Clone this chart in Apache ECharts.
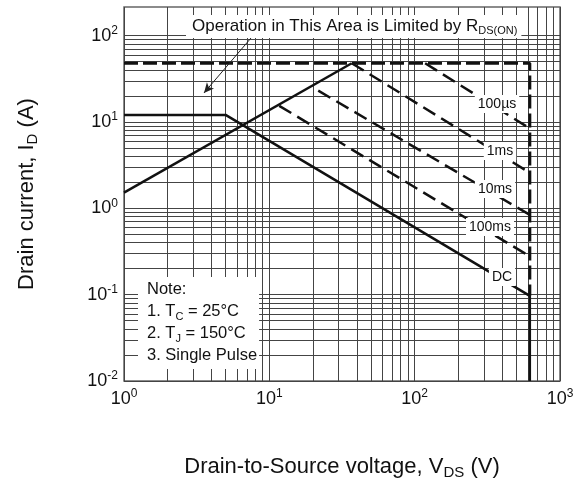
<!DOCTYPE html>
<html><head><meta charset="utf-8">
<script src="https://cdn.jsdelivr.net/npm/echarts@6/dist/echarts.min.js"></script>
<style>html,body{margin:0;padding:0;background:#fff}#c{width:584px;height:485px}</style>
</head><body><div id="c"></div>
<script>
// ---- data ----
const xGridLines = [1,2,3,4,5,6,7,8,9,10,20,30,40,50,60,70,80,90,100,200,300,400,500,600,700,800,900,1000];
const yGridLines = [0.01,0.02,0.03,0.04,0.05,0.06,0.07,0.08,0.09,0.1,0.2,0.3,0.4,0.5,0.6,0.7,0.8,0.9,1,2,3,4,5,6,7,8,9,10,20,30,40,50,60,70,80,90,100];
const limitLine = [[1,48],[620,48],[620,0.097]];       // package / BVdss limit (dashed)
const rdsOnLine = [[1,1.52],[36.9,48]];                // RDS(on) limit
const dcLine    = [[1,12.1],[5,12.1],[620,0.097],[620,0.01]];
const p100us    = [[118,48],[594,8.8]];
const p1ms      = [[36.9,48],[594,2.7]];
const p10ms     = [[21.7,23.1],[620,0.84]];
const p100ms    = [[11.7,15.4],[594,0.29]];
const arrowLine = [[7.6,97],[3.55,21.7]];
const xTitle = 'Drain-to-Source voltage, V';
const yTitle = 'Drain current, I';

const FONT = '"Liberation Sans", Arial, Helvetica, sans-serif';
const chart = echarts.init(document.getElementById('c'), null, {renderer:'canvas'});

function powLabel(v){
  const e = Math.log10(v);
  const r = Math.round(e);
  if (Math.abs(e - r) > 1e-6) return '';
  return '{b|10}{sup|' + (r < 0 ? '-' + (-r) : r) + '}';
}
const tickRich = {
  b:{fontSize:18, lineHeight:22, fontFamily:FONT, color:'#111'},
  sup:{fontSize:12, lineHeight:10, verticalAlign:'top', fontFamily:FONT, color:'#111'}
};
const nameRich = {
  n:{fontSize:22, lineHeight:26, fontFamily:FONT, color:'#111'},
  sub:{fontSize:15, lineHeight:16, verticalAlign:'bottom', fontFamily:FONT, color:'#111'}
};

function lineSeries(name, data, type, width, dash){
  return {name, type:'line', data, symbol:'none', silent:true, animation:false, z:3,
    lineStyle:{color:'#111', width, type: type==='dashed' ? dash : 'solid'}};
}
const labelStyle = (t, x, y) => ({type:'text', z:100, x, y, style:{text:t, font:'14px '+FONT, fill:'#111',
  align:'center', verticalAlign:'middle', backgroundColor:'#fff', padding:[2,3]}});

chart.setOption({
  animation:false,
  grid:{left:124, right:24, top:7, bottom:104, show:true, borderColor:'#666', borderWidth:1.5, backgroundColor:'transparent'},
  xAxis:{type:'log', min:1, max:1000, logBase:10,
    name:'{n|' + xTitle + '}{sub|DS}{n| (V)}', nameLocation:'middle', nameGap:73,
    nameTextStyle:{rich:nameRich},
    axisLine:{show:false}, axisTick:{show:false}, splitLine:{show:false},
    axisLabel:{formatter:powLabel, margin:7, rich:tickRich}},
  yAxis:{type:'log', min:0.01, max:215, logBase:10,
    name:'{n|' + yTitle + '}{sub|D}{n| (A)}', nameLocation:'middle', nameGap:84,
    nameTextStyle:{rich:nameRich},
    axisLine:{show:false}, axisTick:{show:false}, splitLine:{show:false},
    axisLabel:{formatter:powLabel, margin:6, rich:tickRich, showMaxLabel:false}},
  series:[
    {name:'grid', type:'line', data:[], silent:true, animation:false,
     markLine:{z:1, silent:true, symbol:'none', animation:false, label:{show:false},
       lineStyle:{color:'#444', width:1, type:'solid'},
       data:[...xGridLines.map(v=>({xAxis:v})), ...yGridLines.map(v=>({yAxis:v}))]}},
    lineSeries('limit', limitLine, 'dashed', 3, [14,5]),
    Object.assign(lineSeries('rdson', rdsOnLine, 'solid', 2.5), {
      markLine:{z:4, silent:true, animation:false, symbol:['none','arrow'], symbolSize:[7,10], label:{show:false},
        lineStyle:{color:'#222', width:1, type:'solid'},
        data:[[{coord:arrowLine[0]},{coord:arrowLine[1]}]]}}),
    lineSeries('DC', dcLine, 'solid', 2.5),
    lineSeries('100us', p100us, 'dashed', 2.5, [14,7]),
    lineSeries('1ms', p1ms, 'dashed', 2.5, [14,7]),
    lineSeries('10ms', p10ms, 'dashed', 2.5, [14,7]),
    lineSeries('100ms', p100ms, 'dashed', 2.5, [14,7])
  ],
  graphic:[
    {type:'text', z:100, x:186, y:15, style:{
      text:'{n|Operation in This Area is Limited by R}{sub|DS(ON)}', fill:'#111',
      backgroundColor:'#fff', padding:[1,4,2,6],
      rich:{n:{font:'17px '+FONT, lineHeight:20, fill:'#111'},
            sub:{font:'11px '+FONT, lineHeight:12, verticalAlign:'bottom', fill:'#111'}}}},
    {type:'text', z:100, x:138, y:277, style:{
      text:'{n|Note:}\n{n|1. T}{sub|C}{n| = 25°C}\n{n|2. T}{sub|J}{n| = 150°C}\n{n|3. Single Pulse}', fill:'#111',
      backgroundColor:'#fff', padding:[1,2,3,9],
      rich:{n:{font:'16.5px '+FONT, lineHeight:22, fill:'#111'},
            sub:{font:'11px '+FONT, lineHeight:13, verticalAlign:'bottom', fill:'#111'}}}},
    labelStyle('100µs', 497, 104),
    labelStyle('1ms', 500, 151),
    labelStyle('10ms', 495, 189),
    labelStyle('100ms', 490, 227),
    labelStyle('DC', 502, 277)
  ]
});
</script></body></html>
